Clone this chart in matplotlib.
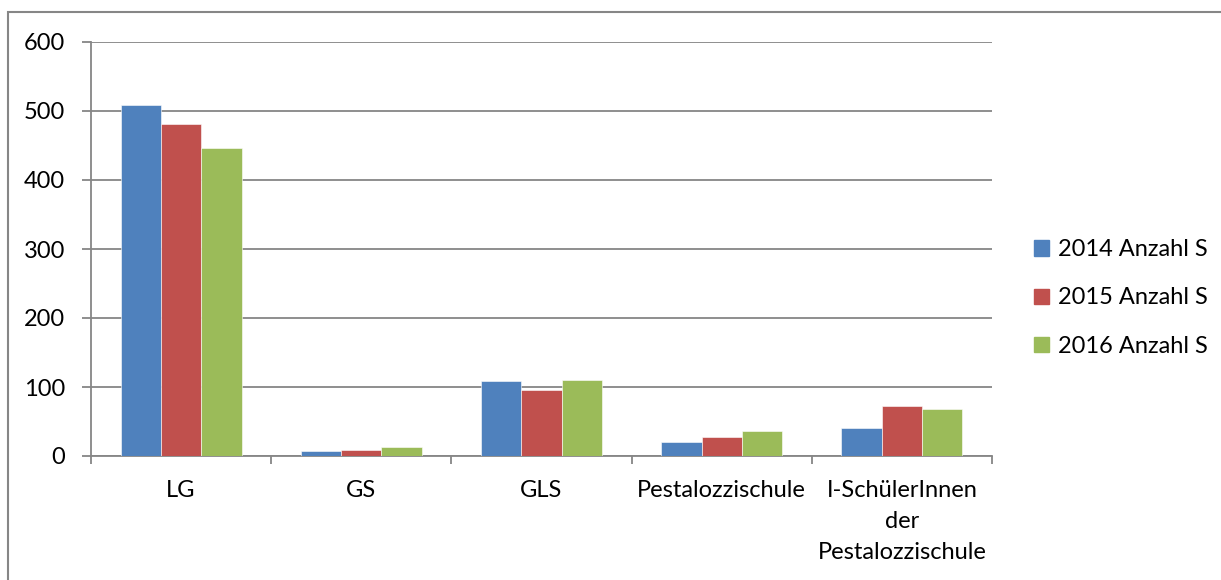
import numpy as np
import matplotlib.pyplot as plt
from matplotlib.patches import Rectangle

categories = ["LG", "GS", "GLS", "Pestalozzischule", "I-SchülerInnen\nder\nPestalozzischule"]
series_names = ["2014 Anzahl S", "2015 Anzahl S", "2016 Anzahl S"]
values_2014 = [508, 7, 109, 20, 41]
values_2015 = [481, 9, 95, 27, 73]
values_2016 = [446, 13, 110, 36, 68]
colors = ["#4f81bd", "#c0504d", "#9bbb59"]

plt.rcParams['font.family'] = ['Lato', 'DejaVu Sans']

W, H = 1221, 580
fig = plt.figure(figsize=(W / 100, H / 100), dpi=100)
ax = fig.add_axes([91 / W, 1 - 456 / H, (992 - 91) / W, (456 - 42) / H])

# outer chart border
fig.patches.append(Rectangle((8 / W, -0.1), 1.2, 1 - 12 / H + 0.1, transform=fig.transFigure,
                             fill=False, edgecolor="#868686", linewidth=1.5))

x = np.arange(len(categories))
bw = 0.224
for i, vals in enumerate([values_2014, values_2015, values_2016]):
    ax.bar(x + (i - 1) * bw, vals, bw, color=colors[i], label=series_names[i],
           edgecolor="white", linewidth=0.4, zorder=3)

ax.set_xlim(-0.5, len(categories) - 0.5)
ax.set_ylim(0, 600)
ax.set_yticks(range(0, 601, 100))
ax.yaxis.grid(True, color="#868686", linewidth=1.3, zorder=0)

for s in ["top", "right"]:
    ax.spines[s].set_visible(False)
for s in ["left", "bottom"]:
    ax.spines[s].set_color("#868686")
    ax.spines[s].set_linewidth(1.3)

fs = 17
ax.set_xticks(np.arange(-0.5, len(categories), 1))
ax.set_xticklabels([])
ax.set_xticks(x, minor=True)
ax.set_xticklabels(categories, minor=True, fontsize=fs, linespacing=1.6, va="top")
ax.tick_params(axis="x", which="major", length=6, color="#868686", width=1.3)
ax.tick_params(axis="x", which="minor", length=0, pad=17)
ax.tick_params(axis="y", length=6.5, color="#868686", width=1.3, labelsize=fs, pad=12)

handles = [Rectangle((0, 0), 1, 1, color=c) for c in colors]
fig.legend(handles, series_names, loc="center left", bbox_to_anchor=(1013 / W, 1 - 298 / H),
           frameon=False, fontsize=fs, handlelength=0.62, handleheight=0.62,
           handletextpad=0.4, labelspacing=1.15)

fig.savefig("out.png", dpi=100)
